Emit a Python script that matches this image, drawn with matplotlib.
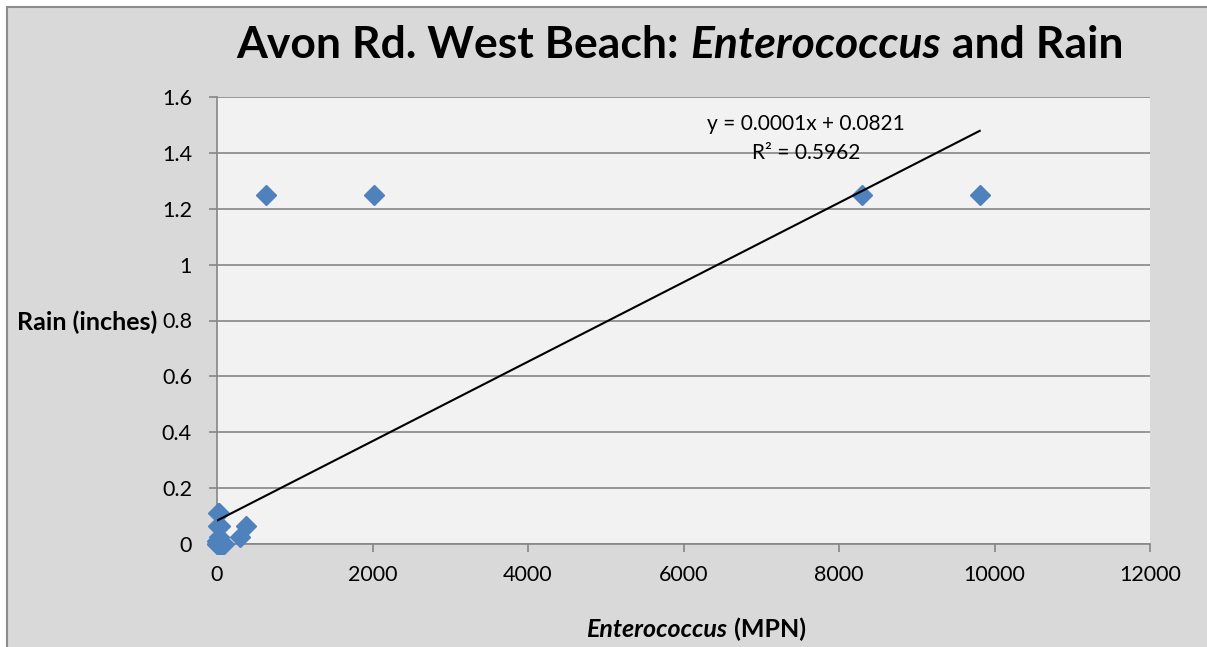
import numpy as np
import matplotlib
matplotlib.use("Agg")
import matplotlib.pyplot as plt
from matplotlib.patches import Rectangle

# ---- data ----
entero = [10, 20, 10, 41, 30, 5, 10, 20, 52, 31, 10, 74, 20, 10, 5, 63, 10,
          30, 41, 85, 10, 5, 300, 370,
          630, 2020, 8290, 9810]
rain = [0.11, 0.11, 0.065, 0.065, 0.025, 0.01, 0, 0, 0, 0, 0, 0, 0, 0, 0, 0, 0,
        0, 0, 0, 0, 0, 0.025, 0.065,
        1.25, 1.25, 1.25, 1.25]
x_ticks = [0, 2000, 4000, 6000, 8000, 10000, 12000]
y_ticks = [0, 0.2, 0.4, 0.6, 0.8, 1.0, 1.2, 1.4, 1.6]
eq_text = "y = 0.0001x + 0.0821"
r2_text = "R² = 0.5962"

FONT = ["Lato", "DejaVu Sans"]
plt.rcParams['font.family'] = FONT

W, H = 1207, 647
fig = plt.figure(figsize=(W / 100, H / 100), dpi=100)
fig.patch.set_facecolor("white")

# chart area background with border
fig.patches.append(Rectangle((7 / W, -0.05), 1.1, (H - 7) / H + 0.05,
                             transform=fig.transFigure, facecolor="#d9d9d9",
                             edgecolor="#8c8c8c", linewidth=1.5, zorder=-10))

ax = fig.add_axes([217 / W, 1 - 544 / H, (1150 - 217) / W, (544 - 97) / H])
ax.set_facecolor("#f2f2f2")
ax.set_xlim(0, 12000)
ax.set_ylim(0, 1.6)
ax.set_xticks(x_ticks)
ax.set_yticks(y_ticks)
ax.set_yticklabels(["%g" % v for v in y_ticks])
ax.set_xticklabels(["%d" % v for v in x_ticks])
ax.yaxis.grid(True, color="#868686", linewidth=1.2)
ax.set_axisbelow(True)
for s in ["top", "right"]:
    ax.spines[s].set_visible(False)
for s in ["left", "bottom"]:
    ax.spines[s].set_color("#868686")
    ax.spines[s].set_linewidth(1.2)
ax.tick_params(axis="both", direction="out", length=6, width=1.2, color="#868686",
               labelsize=15.5, labelcolor="black")
ax.tick_params(axis="x", pad=9)
ax.tick_params(axis="y", pad=12)

# scatter
ax.plot(entero, rain, linestyle="none", marker="D", markersize=10.5,
        color="#4f81bd", markeredgecolor="#4f81bd", clip_on=False, zorder=3)

# linear trendline (least squares)
slope, intercept = np.polyfit(entero, rain, 1)
xs = np.array([min(entero), max(entero)])
ax.plot(xs, slope * xs + intercept, color="black", linewidth=1.5, zorder=4)

ax.text(806 / W, 1 - 124 / H, eq_text, transform=fig.transFigure,
        ha="center", va="center", fontsize=15)
ax.text(806 / W, 1 - 153 / H, r2_text, transform=fig.transFigure,
        ha="center", va="center", fontsize=15)


def segmented(parts, cx, y, fontsize, va="baseline"):
    """Draw text segments horizontally, centered at cx (figure px)."""
    texts = []
    for s, style in parts:
        t = fig.text(0, y / H, s, fontsize=fontsize, fontweight="bold",
                     fontstyle=style, va=va, ha="left")
        texts.append(t)
    fig.canvas.draw()
    r = fig.canvas.get_renderer()
    widths = [t.get_window_extent(r).width for t in texts]
    total = sum(widths)
    x = cx - total / 2
    for t, w in zip(texts, widths):
        t.set_x(x / W)
        x += w


segmented([("Avon Rd. West Beach: ", "normal"), ("Enterococcus", "italic"),
           (" and Rain", "normal")], 680, H - 58, 32)
segmented([("Enterococcus", "italic"), (" (MPN)", "normal")], 696, H - 637, 18)

fig.text(157 / W, 1 - 322 / H, "Rain (inches)", fontsize=18, fontweight="bold",
         ha="right", va="center")

fig.savefig("out.png", dpi=100, facecolor=fig.get_facecolor())
